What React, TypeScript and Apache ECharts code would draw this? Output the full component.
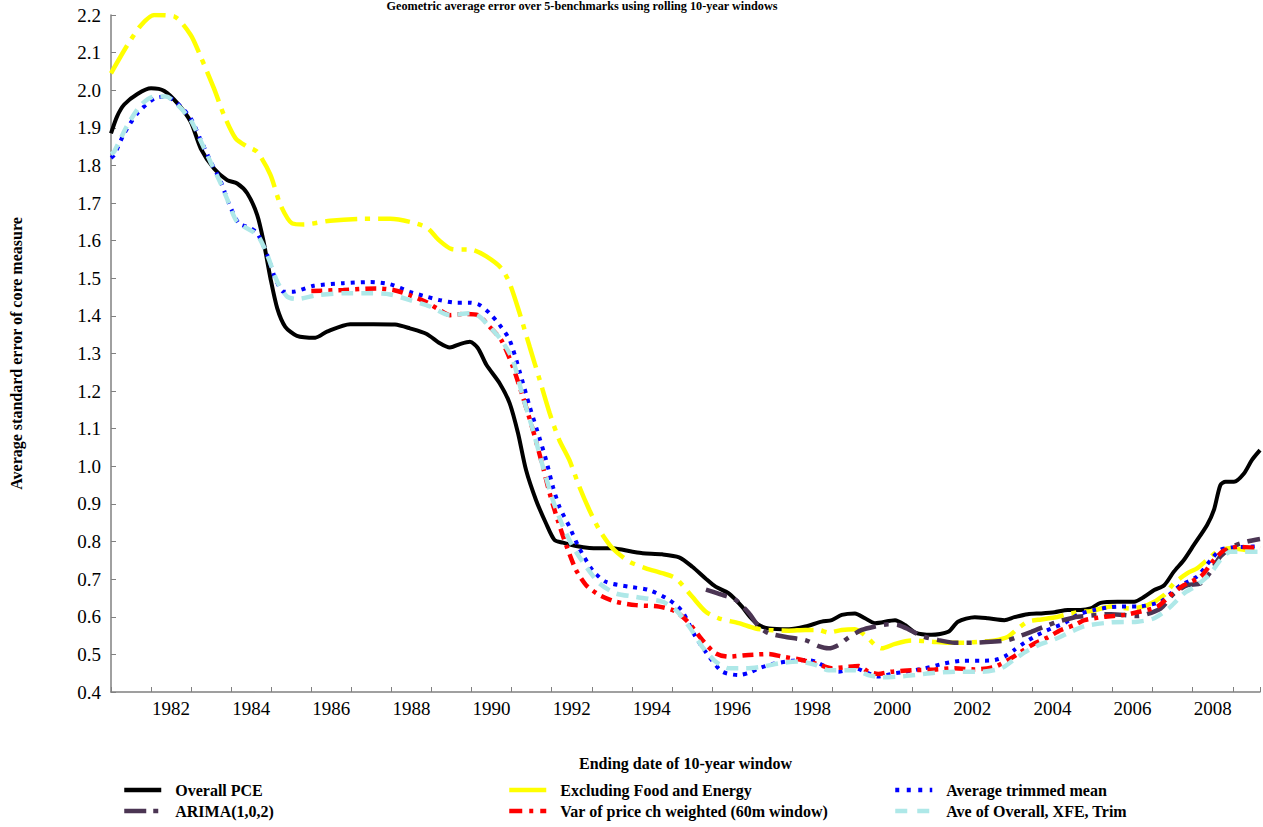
import React, { useEffect, useRef } from "react";
import * as echarts from "echarts";

const chartTitle = "Geometric average error over 5-benchmarks using rolling 10-year windows";
const yAxisTitle = "Average standard error of core measure";
const xAxisTitle = "Ending date of 10-year window";
const seriesNames = [
  "Overall PCE",
  "Excluding Food and Energy",
  "Average trimmed mean",
  "ARIMA(1,0,2)",
  "Var of price ch weighted (60m window)",
  "Ave of Overall, XFE, Trim",
];

const overallPCE: [number, number][] = [
  [1981.0, 1.885], [1981.15, 1.93], [1981.33, 1.962], [1981.66, 1.99], [1982.0, 2.005], [1982.33, 1.998],
  [1982.66, 1.965], [1982.99, 1.916], [1983.24, 1.845], [1983.57, 1.792], [1983.9, 1.761], [1984.15, 1.752],
  [1984.4, 1.726], [1984.65, 1.668], [1984.81, 1.597], [1984.98, 1.5], [1985.15, 1.42], [1985.35, 1.371],
  [1985.64, 1.347], [1986.1, 1.342], [1986.39, 1.358], [1986.97, 1.378], [1987.55, 1.378], [1988.09, 1.377],
  [1988.46, 1.367], [1988.88, 1.352], [1989.21, 1.327], [1989.46, 1.316], [1989.71, 1.325], [1989.96, 1.331],
  [1990.16, 1.314], [1990.37, 1.27], [1990.7, 1.221], [1990.95, 1.168], [1991.16, 1.088], [1991.36, 0.99],
  [1991.61, 0.91], [1991.86, 0.848], [1992.07, 0.804], [1992.28, 0.797], [1992.61, 0.788], [1992.94, 0.783],
  [1993.52, 0.782], [1994.02, 0.773], [1994.27, 0.769], [1994.76, 0.766], [1995.18, 0.758], [1995.51, 0.733],
  [1995.84, 0.702], [1996.09, 0.68], [1996.42, 0.662], [1996.75, 0.627], [1996.95, 0.6], [1997.17, 0.578],
  [1997.42, 0.569], [1997.92, 0.567], [1998.33, 0.574], [1998.74, 0.587], [1998.99, 0.591], [1999.24, 0.605],
  [1999.57, 0.609], [1999.82, 0.596], [2000.07, 0.583], [2000.57, 0.591], [2000.82, 0.578], [2001.07, 0.558],
  [2001.48, 0.552], [2001.9, 0.56], [2002.14, 0.587], [2002.56, 0.599], [2002.89, 0.596], [2003.3, 0.591],
  [2003.55, 0.599], [2003.88, 0.607], [2004.22, 0.609], [2004.55, 0.612], [2004.88, 0.618], [2005.2, 0.618],
  [2005.45, 0.622], [2005.7, 0.637], [2006.12, 0.64], [2006.54, 0.64], [2006.79, 0.653], [2007.04, 0.671],
  [2007.29, 0.684], [2007.53, 0.72], [2007.78, 0.751], [2008.03, 0.791], [2008.36, 0.844], [2008.53, 0.884],
  [2008.69, 0.95], [2008.82, 0.959], [2009.03, 0.959], [2009.28, 0.981], [2009.48, 1.017], [2009.68, 1.043],
];

const excludingFoodEnergy: [number, number][] = [
  [1981.0, 2.045], [1981.41, 2.12], [1981.75, 2.173], [1982.08, 2.2], [1982.58, 2.196], [1982.99, 2.147],
  [1983.24, 2.089], [1983.57, 2.005], [1983.82, 1.934], [1984.11, 1.872], [1984.4, 1.85], [1984.65, 1.836],
  [1984.98, 1.775], [1985.23, 1.695], [1985.52, 1.646], [1985.81, 1.643], [1986.47, 1.653], [1987.3, 1.658],
  [1987.97, 1.658], [1988.46, 1.65], [1988.88, 1.635], [1989.2, 1.6], [1989.5, 1.578], [1990.04, 1.575],
  [1990.37, 1.558], [1990.74, 1.527], [1990.95, 1.487], [1991.2, 1.407], [1991.45, 1.318], [1991.7, 1.23],
  [1991.95, 1.141], [1992.19, 1.07], [1992.44, 1.017], [1992.69, 0.946], [1992.94, 0.884], [1993.19, 0.831],
  [1993.52, 0.782], [1993.93, 0.747], [1994.35, 0.729], [1994.76, 0.716], [1995.1, 0.702], [1995.51, 0.653],
  [1995.84, 0.614], [1996.17, 0.596], [1996.67, 0.583], [1997.09, 0.569], [1997.42, 0.565], [1997.92, 0.563],
  [1998.33, 0.565], [1998.66, 0.565], [1998.91, 0.558], [1999.24, 0.565], [1999.57, 0.567], [1999.86, 0.547],
  [2000.07, 0.525], [2000.24, 0.516], [2000.57, 0.528], [2000.98, 0.537], [2001.48, 0.534], [2001.9, 0.531],
  [2002.31, 0.531], [2002.72, 0.534], [2003.06, 0.537], [2003.39, 0.547], [2003.64, 0.569], [2003.88, 0.587],
  [2004.22, 0.593], [2004.55, 0.598], [2004.88, 0.607], [2005.2, 0.613], [2005.46, 0.615], [2005.96, 0.627],
  [2006.46, 0.622], [2006.87, 0.631], [2007.29, 0.658], [2007.53, 0.689], [2007.87, 0.716], [2008.11, 0.729],
  [2008.36, 0.751], [2008.61, 0.773], [2008.94, 0.782], [2009.28, 0.778], [2009.68, 0.773],
];

const trimmedMean: [number, number][] = [
  [1981.0, 1.82], [1981.08, 1.828], [1981.33, 1.885], [1981.66, 1.939], [1982.08, 1.978], [1982.37, 1.983],
  [1982.66, 1.965], [1982.99, 1.925], [1983.24, 1.868], [1983.49, 1.81], [1983.74, 1.757], [1983.94, 1.7],
  [1984.19, 1.646], [1984.45, 1.635], [1984.65, 1.62], [1984.9, 1.562], [1985.1, 1.5], [1985.31, 1.464],
  [1985.52, 1.464], [1986.06, 1.48], [1986.8, 1.487], [1987.47, 1.49], [1987.97, 1.484], [1988.46, 1.464],
  [1988.88, 1.451], [1989.2, 1.442], [1989.62, 1.435], [1989.96, 1.435], [1990.2, 1.429], [1990.45, 1.407],
  [1990.7, 1.376], [1990.95, 1.336], [1991.2, 1.252], [1991.45, 1.159], [1991.7, 1.074], [1991.86, 1.017],
  [1992.03, 0.946], [1992.19, 0.893], [1992.44, 0.84], [1992.69, 0.782], [1993.02, 0.724], [1993.35, 0.693],
  [1993.93, 0.68], [1994.43, 0.671], [1994.93, 0.645], [1995.26, 0.614], [1995.59, 0.547], [1995.93, 0.494],
  [1996.26, 0.454], [1996.67, 0.445], [1996.95, 0.452], [1997.17, 0.463], [1997.5, 0.474], [1998.0, 0.483],
  [1998.33, 0.485], [1998.58, 0.481], [1998.91, 0.463], [1999.16, 0.454], [1999.57, 0.463], [1999.9, 0.45],
  [2000.15, 0.441], [2000.48, 0.448], [2000.82, 0.454], [2001.31, 0.463], [2001.81, 0.476], [2002.23, 0.483],
  [2002.72, 0.483], [2003.06, 0.485], [2003.3, 0.494], [2003.55, 0.512], [2003.8, 0.531], [2004.13, 0.552],
  [2004.47, 0.569], [2004.8, 0.583], [2005.13, 0.605], [2005.54, 0.618], [2006.12, 0.627], [2006.62, 0.627],
  [2007.2, 0.64], [2007.45, 0.662], [2007.7, 0.684], [2008.11, 0.707], [2008.45, 0.751], [2008.69, 0.778],
  [2009.03, 0.785], [2009.36, 0.786], [2009.68, 0.788],
];

const arima102: [number, number][] = [
  [1995.85, 0.672], [1996.26, 0.658], [1996.59, 0.645], [1996.92, 0.61], [1997.17, 0.574], [1997.42, 0.556],
  [1997.92, 0.545], [1998.33, 0.538], [1998.66, 0.522], [1998.91, 0.516], [1999.16, 0.525], [1999.41, 0.545],
  [1999.74, 0.565], [2000.07, 0.574], [2000.4, 0.58], [2000.65, 0.578], [2000.9, 0.567], [2001.23, 0.549],
  [2001.65, 0.538], [2002.06, 0.531], [2002.56, 0.531], [2003.06, 0.534], [2003.39, 0.538], [2003.64, 0.547],
  [2003.97, 0.56], [2004.3, 0.574], [2004.63, 0.587], [2004.96, 0.596], [2005.13, 0.6], [2005.96, 0.607],
  [2006.62, 0.602], [2007.2, 0.622], [2007.53, 0.662], [2007.87, 0.684], [2008.2, 0.689], [2008.45, 0.72],
  [2008.69, 0.76], [2009.03, 0.788], [2009.36, 0.8], [2009.68, 0.807],
];

const varPriceWeighted: [number, number][] = [
  [1986.0, 1.466], [1986.8, 1.469], [1987.62, 1.473], [1988.05, 1.469], [1988.46, 1.455], [1988.88, 1.436],
  [1989.2, 1.416], [1989.46, 1.402], [1989.79, 1.405], [1990.16, 1.402], [1990.45, 1.371], [1990.74, 1.336],
  [1991.03, 1.265], [1991.28, 1.185], [1991.53, 1.097], [1991.78, 0.999], [1991.95, 0.928], [1992.15, 0.857],
  [1992.36, 0.791], [1992.61, 0.724], [1992.86, 0.684], [1993.19, 0.658], [1993.6, 0.64], [1994.1, 0.631],
  [1994.68, 0.627], [1995.1, 0.614], [1995.43, 0.583], [1995.76, 0.538], [1996.09, 0.503], [1996.42, 0.494],
  [1996.84, 0.498], [1997.17, 0.5], [1997.42, 0.501], [1997.75, 0.494], [1998.16, 0.487], [1998.58, 0.476],
  [1998.99, 0.463], [1999.32, 0.466], [1999.66, 0.469], [1999.9, 0.454], [2000.15, 0.448], [2000.48, 0.454],
  [2001.07, 0.458], [2001.56, 0.46], [2002.06, 0.463], [2002.56, 0.46], [2003.06, 0.467], [2003.39, 0.485],
  [2003.72, 0.507], [2004.05, 0.529], [2004.38, 0.545], [2004.71, 0.565], [2005.05, 0.578], [2005.3, 0.591],
  [2005.79, 0.6], [2006.29, 0.605], [2006.7, 0.614], [2007.12, 0.627], [2007.45, 0.658], [2007.78, 0.684],
  [2008.2, 0.707], [2008.53, 0.751], [2008.78, 0.776], [2009.19, 0.786], [2009.68, 0.782],
];

const aveOverallXfeTrim: [number, number][] = [
  [1981.0, 1.83], [1981.08, 1.837], [1981.41, 1.907], [1981.75, 1.961], [1982.08, 1.983], [1982.37, 1.983],
  [1982.66, 1.961], [1982.99, 1.921], [1983.24, 1.865], [1983.49, 1.808], [1983.74, 1.752], [1983.94, 1.7],
  [1984.15, 1.65], [1984.65, 1.615], [1984.9, 1.562], [1985.15, 1.491], [1985.4, 1.451], [1985.64, 1.445],
  [1986.14, 1.455], [1986.8, 1.46], [1987.47, 1.46], [1987.97, 1.457], [1988.46, 1.442], [1988.96, 1.425],
  [1989.46, 1.402], [1989.96, 1.407], [1990.2, 1.398], [1990.45, 1.371], [1990.74, 1.336], [1991.03, 1.283],
  [1991.28, 1.185], [1991.53, 1.097], [1991.78, 0.999], [1992.03, 0.91], [1992.28, 0.84], [1992.53, 0.786],
  [1992.86, 0.733], [1993.19, 0.689], [1993.6, 0.662], [1994.1, 0.653], [1994.76, 0.64], [1995.1, 0.618],
  [1995.43, 0.574], [1995.76, 0.52], [1996.09, 0.481], [1996.42, 0.463], [1996.84, 0.463], [1997.25, 0.467],
  [1997.67, 0.476], [1998.16, 0.481], [1998.58, 0.472], [1998.91, 0.458], [1999.57, 0.458], [1999.9, 0.445],
  [2000.24, 0.439], [2000.65, 0.441], [2001.07, 0.445], [2001.56, 0.451], [2002.06, 0.454], [2002.72, 0.454],
  [2003.22, 0.463], [2003.55, 0.487], [2003.88, 0.51], [2004.22, 0.528], [2004.55, 0.54], [2004.88, 0.556],
  [2005.3, 0.575], [2005.96, 0.585], [2006.62, 0.587], [2007.04, 0.596], [2007.45, 0.627], [2007.78, 0.662],
  [2008.11, 0.684], [2008.45, 0.716], [2008.69, 0.751], [2008.94, 0.773], [2009.28, 0.773], [2009.68, 0.773],
];

const xMin = 1981;
const xMax = 2009.68;
const yMin = 0.4;
const yMax = 2.2;

const FONT = "'Liberation Serif', 'Times New Roman', serif";

export default function App() {
  const ref = useRef<HTMLDivElement>(null);

  useEffect(() => {
    if (!ref.current) return;
    const chart = echarts.init(ref.current, null, { renderer: "svg" });

    const datasets = [overallPCE, excludingFoodEnergy, trimmedMean, arima102, varPriceWeighted, aveOverallXfeTrim];
    const styles: { color: string; width: number; type: any }[] = [
      { color: "#000000", width: 4, type: "solid" },
      { color: "#FFFF00", width: 4.5, type: [32, 8, 5, 8] },
      { color: "#0000FF", width: 4, type: [4, 6] },
      { color: "#4B3553", width: 4.5, type: [22, 8, 5, 8] },
      { color: "#FF0000", width: 4.5, type: [11, 6, 4, 6] },
      { color: "#AEE8E8", width: 4.5, type: [12, 8] },
    ];
    const legendDash: any[] = ["solid", "solid", [4, 7.5], [22, 7, 5, 7], [13, 7, 4, 7], [12, 10]];

    const series = datasets.map((d, i) => ({
      name: seriesNames[i],
      type: "line",
      xAxisIndex: 0,
      yAxisIndex: 0,
      data: d,
      symbol: "none",
      showSymbol: false,
      smooth: 0.25,
      clip: true,
      itemStyle: { color: styles[i].color },
      lineStyle: { color: styles[i].color, width: styles[i].width, type: styles[i].type, cap: "butt" },
      z: 2 + i,
    }));

    const legendPos = [
      { left: 122, top: 782 },
      { left: 507, top: 782 },
      { left: 893, top: 782 },
      { left: 122, top: 803 },
      { left: 507, top: 803 },
      { left: 893, top: 803 },
    ];
    const legends = seriesNames.map((nm, k) => ({
      data: [nm],
      left: legendPos[k].left,
      top: legendPos[k].top,
      padding: 0,
      itemWidth: 37,
      itemHeight: 16,
      selectedMode: false,
      itemStyle: { opacity: 0 },
      lineStyle: { width: 4.5, type: legendDash[k], cap: "butt", color: styles[k].color },
      textStyle: {
        fontFamily: FONT,
        fontSize: 16,
        fontWeight: "bold",
        color: "#000",
        padding: [0, 0, 0, 9],
      },
    }));

    chart.setOption({
      animation: false,
      backgroundColor: "#ffffff",
      textStyle: { fontFamily: FONT },
      grid: { left: 110, top: 15, right: 0, bottom: 135, containLabel: false },
      graphic: [
        {
          type: "text",
          x: 582,
          y: 0,
          style: {
            text: chartTitle,
            fontFamily: FONT,
            fontSize: 12.2,
            fontWeight: "bold",
            fill: "#000",
            textAlign: "center",
            textVerticalAlign: "top",
          },
        },
      ],
      legend: legends,
      xAxis: [
        {
          type: "value",
          position: "bottom",
          min: xMin,
          max: xMax,
          interval: 1,
          axisLine: { show: true, lineStyle: { color: "#808080", width: 1.5 } },
          axisTick: { show: true, inside: true, length: 5, lineStyle: { color: "#808080", width: 1 } },
          axisLabel: { show: false },
          splitLine: { show: false },
        },
        {
          type: "value",
          position: "bottom",
          min: xMin,
          max: xMax,
          interval: 0.5,
          axisLine: { show: false },
          axisTick: { show: false },
          splitLine: { show: false },
          axisLabel: {
            show: true,
            margin: 7,
            fontFamily: FONT,
            fontSize: 19,
            color: "#000",
            formatter: (v: number) => {
              const yr = Math.round((v - 0.5) * 100) / 100;
              return Number.isInteger(yr) && yr % 2 === 0 ? String(yr) : "";
            },
          },
          name: xAxisTitle,
          nameLocation: "middle",
          nameGap: 63,
          nameTextStyle: { fontFamily: FONT, fontSize: 16, fontWeight: "bold", color: "#000" },
        },
      ],
      yAxis: {
        type: "value",
        min: yMin,
        max: yMax,
        interval: 0.1,
        axisLine: { show: true, lineStyle: { color: "#808080", width: 1.5 } },
        axisTick: { show: true, inside: true, length: 5, lineStyle: { color: "#808080", width: 1 } },
        splitLine: { show: false },
        axisLabel: {
          margin: 10,
          fontFamily: FONT,
          fontSize: 19,
          color: "#000",
          formatter: (v: number) => v.toFixed(1),
        },
        name: yAxisTitle,
        nameLocation: "middle",
        nameGap: 87,
        nameTextStyle: { fontFamily: FONT, fontSize: 16, fontWeight: "bold", color: "#000" },
      },
      series,
    });

    return () => chart.dispose();
  }, []);

  return (
    <div
      ref={ref}
      style={{ position: "absolute", left: 0, top: 0, width: 1263, height: 827, background: "#fff" }}
    />
  );
}
